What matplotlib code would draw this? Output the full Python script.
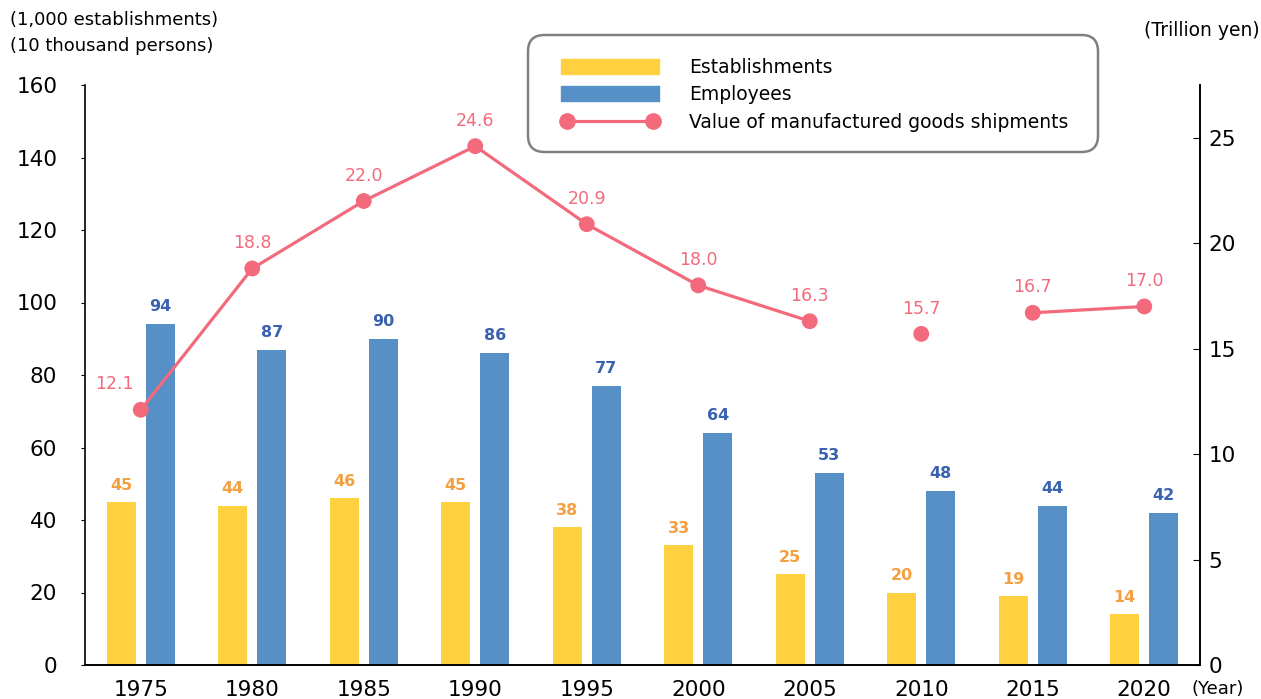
import numpy as np
import matplotlib.pyplot as plt
from matplotlib.lines import Line2D
from matplotlib.patches import Patch, FancyBboxPatch

plt.rcParams['font.family'] = ['DejaVu Sans']

years = ['1975', '1980', '1985', '1990', '1995', '2000', '2005', '2010', '2015', '2020']
establishments = [45, 44, 46, 45, 38, 33, 25, 20, 19, 14]
employees = [94, 87, 90, 86, 77, 64, 53, 48, 44, 42]
shipments = [12.1, 18.8, 22.0, 24.6, 20.9, 18.0, 16.3, 15.7, 16.7, 17.0]
# the shipment line is broken around 2010 in the source
line_segments = [(0, 7), (8, 10)]

c_est = '#FFD040'
c_emp = '#5690C6'
c_line = '#F26A7C'
c_est_lbl = '#F5A040'
c_emp_lbl = '#3A62B0'

W, H = 1261, 699
fig = plt.figure(figsize=(W / 100, H / 100), dpi=100)
ax = fig.add_axes([85/W, 34/H, 1115/W, 580/H])
ax2 = ax.twinx()

x = np.arange(len(years))
w = 0.26
off = 0.175
ax.bar(x - off, establishments, w, color=c_est)
ax.bar(x + off, employees, w, color=c_emp)

for i in range(len(years)):
    ax.text(x[i] - off, establishments[i] + 4.6, str(establishments[i]), ha='center', va='center',
            color=c_est_lbl, fontsize=11.5, fontweight='bold')
    ax.text(x[i] + off, employees[i] + 4.8, str(employees[i]), ha='center', va='center',
            color=c_emp_lbl, fontsize=11.5, fontweight='bold')

for a, b in line_segments:
    ax2.plot(x[a:b], shipments[a:b], color=c_line, lw=2.3, zorder=3)
ax2.scatter(x, shipments, s=130, color=c_line, zorder=4, edgecolors='none')
for i in range(len(years)):
    ax2.text(x[i], shipments[i] + 1.2, f'{shipments[i]:.1f}', ha='center', va='center',
             color=c_line, fontsize=12.5)
# 1975 label sits left of its point
ax2.texts[0].set_position((x[0] - 0.24, shipments[0] + 1.2))

ax.set_xlim(-0.5, len(years) - 0.5)
ax.set_ylim(0, 160)
ax.set_yticks(range(0, 161, 20))
ax2.set_ylim(0, 27.5)
ax2.set_yticks(range(0, 26, 5))
ax.set_xticks(x)
ax.set_xticklabels(years)

for a in (ax, ax2):
    a.spines['top'].set_visible(False)
    for s in a.spines.values():
        s.set_linewidth(1.2)
ax.tick_params(axis='y', direction='out', length=3, labelsize=15.5, pad=17)
ax2.tick_params(axis='y', direction='in', length=5, labelsize=15.5, pad=6)
ax.tick_params(axis='x', length=0, labelsize=15.5, pad=11)
ax2.spines['left'].set_visible(False)

fig.text(10/W, 1 - 20/H, '(1,000 establishments)', fontsize=13, va='center')
fig.text(10/W, 1 - 46/H, '(10 thousand persons)', fontsize=13, va='center')
fig.text(1260/W, 1 - 30/H, '(Trillion yen)', fontsize=13.5, va='center', ha='right')
fig.text(1218/W, 1 - 689/H, '(Year)', fontsize=13, va='center', ha='center')

# legend frame drawn by hand, legend itself frameless
box = FancyBboxPatch((528/W, 1 - 152/H), 570/W, 117/H, transform=fig.transFigure,
                     boxstyle='round,pad=0,rounding_size=0.013', mutation_aspect=W/H,
                     facecolor='white', edgecolor='#808080', linewidth=1.8, zorder=5)
fig.patches.append(box)

handles = [Patch(color=c_est), Patch(color=c_emp),
           Line2D([0], [0], color=c_line, lw=2.3, marker='o', markersize=11)]
leg = fig.legend(handles, ['Establishments', 'Employees', 'Value of manufactured goods shipments'],
                 loc='upper left', bbox_to_anchor=(561/W, 1 - 58/H), fontsize=13.5,
                 numpoints=2, handlelength=5.2, handleheight=0.85, handletextpad=1.65,
                 labelspacing=0.45, borderpad=0, borderaxespad=0, frameon=False)
leg.set_zorder(6)

fig.savefig('out.png', dpi=100)
